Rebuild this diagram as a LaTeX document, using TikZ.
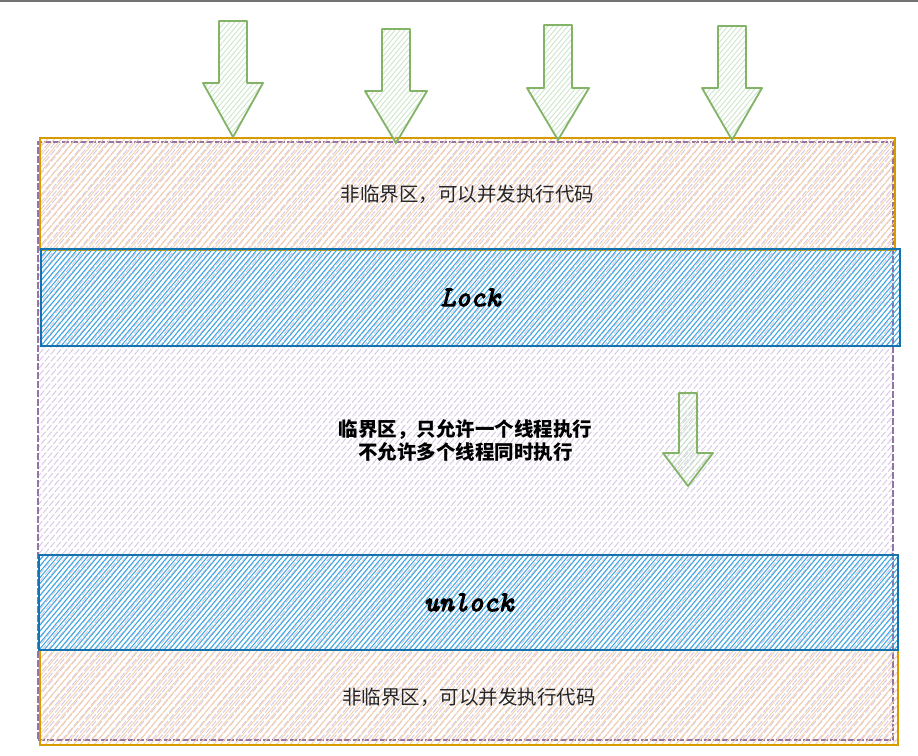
\documentclass[tikz,border=0pt]{standalone}
\usepackage{fontspec}
\newfontfamily\cjk{Noto Sans CJK SC}
\newfontfamily\codefont{Latin Modern Mono}[FakeBold=3.5]
\definecolor{orS}{HTML}{D79B00}
\definecolor{orF}{HTML}{F6D0A9}
\definecolor{puS}{HTML}{9673A6}
\definecolor{puF}{HTML}{D6C8E3}
\definecolor{blS}{HTML}{1672AC}
\definecolor{blF}{HTML}{3AA8E4}
\definecolor{grS}{HTML}{82B366}
\definecolor{grF}{HTML}{CBE3C8}
\tikzset{
  hatch/.style n args={3}{path picture={
    \pgfmathtruncatemacro\nn{1560/#2}
    \foreach \k in {0,...,\nn}{
      \draw[#1, line width=#3] ([xshift={(\k*#2-660)*1pt}]path picture bounding box.south west) -- ++(640pt,760pt);
    }}},
  region/.style={inner sep=0pt, outer sep=0pt, anchor=center},
  orbox/.style={region, draw=orS, line width=1.6pt, hatch={orF}{7}{0.9pt}},
  pubox/.style={region, draw=puS, line width=1.2pt, dash pattern=on 7pt off 2pt, hatch={puF}{6}{0.9pt}},
  blbox/.style={region, draw=blS, line width=1.6pt, hatch={blF}{5}{1pt}},
  blockarrow/.style={draw=grS, line width=1.8pt, line join=round, hatch={grF}{5}{0.8pt}},
  cjktext/.style={font=\cjk\fontsize{19.5}{23}\selectfont, text=black!85},
  cjkbold/.style={font=\cjk\bfseries\fontsize{19.5}{23}\selectfont, text=black, align=center},
  codetext/.style={font=\codefont\itshape\fontsize{28.5}{30}\selectfont, text=black},
}
\begin{document}
\begin{tikzpicture}[x=1pt,y=-1pt]
\useasboundingbox (0,0) rectangle (918,755);
\fill[white] (0,0) rectangle (918,755);
\draw[black!55, line width=1.5pt] (0,0.8) -- (918,0.8);

% critical section (purple)
\node[pubox, minimum width=855pt, minimum height=598pt, cjkbold] (crit) at (465.5,441)
  {临界区，只允许一个线程执行\\不允许多个线程同时执行};

% non-critical sections (orange)
\node[orbox, minimum width=855pt, minimum height=112pt, cjktext] (topnc) at (467.5,194) {非临界区，可以并发执行代码};
\node[orbox, minimum width=858pt, minimum height=95pt, cjktext] (botnc) at (469,697.5) {非临界区，可以并发执行代码};

% lock / unlock bands (blue)
\node[blbox, minimum width=859pt, minimum height=97pt, codetext] (lock) at (470.5,297.5) {Lock};
\node[blbox, minimum width=859pt, minimum height=95pt, codetext] (unlock) at (468.5,602.5) {unlock};

% block arrows
\foreach \c/\t/\n/\b/\s/\h in {233/21/83/137/14/30, 396/29/91/143/14/31, 558/25/88/140/14/31, 732/26/88/140/14/30, 688/393/453/486/9/25}{
  \draw[blockarrow] (\c-\s,\t) -- (\c+\s,\t) -- (\c+\s,\n) -- (\c+\h,\n) -- (\c,\b) -- (\c-\h,\n) -- (\c-\s,\n) -- cycle;
}
\end{tikzpicture}
\end{document}
